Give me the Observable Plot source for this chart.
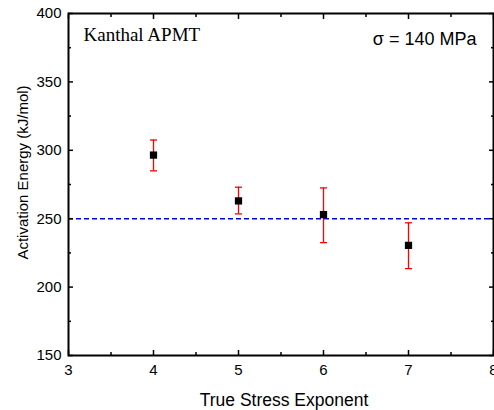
<!DOCTYPE html>
<html>
<head>
<meta charset="utf-8">
<script src="https://cdn.jsdelivr.net/npm/d3@7"></script>
<script src="https://cdn.jsdelivr.net/npm/@observablehq/plot@0.6"></script>
<style>
  html, body { margin: 0; padding: 0; background: #fff; }
  #chart { width: 494px; height: 410px; overflow: hidden; }
</style>
</head>
<body>
<div id="chart"></div>
<script>
// Data
const exponents = [4, 5, 6, 7];
const energy = [296.5, 263, 253, 230.5];
const errLow = [285, 253.5, 232.5, 213.5];
const errHigh = [307.5, 273, 272.5, 247];
const referenceEnergy = 250;

const xTicks = [3, 4, 5, 6, 7, 8];
const xMinorTicks = [3.5, 4.5, 5.5, 6.5, 7.5];
const yTicks = [150, 200, 250, 300, 350, 400];
const yMinorTicks = [175, 225, 275, 325, 375];

const xLabel = "True Stress Exponent";
const yLabel = "Activation Energy (kJ/mol)";
const materialLabel = "Kanthal APMT";
const stressLabel = "σ = 140 MPa";

const points = exponents.map((x, i) => ({x, y: energy[i], lo: errLow[i], hi: errHigh[i]}));

const capSymbol = {
  draw(context, size) {
    const r = Math.sqrt(size / Math.PI);
    context.moveTo(-r, 0);
    context.lineTo(r, 0);
  }
};

const intFormat = d3.format("d");

const chart = Plot.plot({
  width: 494,
  height: 410,
  marginLeft: 68,
  marginRight: 1,
  marginTop: 13,
  marginBottom: 55,
  style: {fontFamily: "'Liberation Sans', Arial, sans-serif", fontSize: "15px", background: "white", color: "black"},
  x: {domain: [3, 8]},
  y: {domain: [150, 400]},
  marks: [
    // reference dashed line
    Plot.ruleY([referenceEnergy], {stroke: "#0000ee", strokeWidth: 1.5, strokeDasharray: "5,3"}),
    // error bars
    Plot.ruleX(points, {x: "x", y1: "lo", y2: "hi", stroke: "#ff0000", strokeWidth: 1.3}),
    Plot.dot(points, {x: "x", y: "lo", symbol: capSymbol, r: 3.5, stroke: "#ff0000", strokeWidth: 1.3, fill: "none"}),
    Plot.dot(points, {x: "x", y: "hi", symbol: capSymbol, r: 3.5, stroke: "#ff0000", strokeWidth: 1.3, fill: "none"}),
    // markers
    Plot.dot(points, {x: "x", y: "y", symbol: "square", r: 4.1, fill: "black", stroke: "none"}),
    // inward ticks on all sides
    Plot.axisX({anchor: "bottom", ticks: xTicks, tickSize: -5, text: null, label: null, strokeWidth: 1.5}),
    Plot.axisX({anchor: "bottom", ticks: xMinorTicks, tickSize: -3, text: null, label: null, strokeWidth: 1.5}),
    Plot.axisX({anchor: "top", ticks: xTicks, tickSize: -5, text: null, label: null, strokeWidth: 1.5}),
    Plot.axisX({anchor: "top", ticks: xMinorTicks, tickSize: -3, text: null, label: null, strokeWidth: 1.5}),
    Plot.axisY({anchor: "left", ticks: yTicks, tickSize: -5, text: null, label: null, strokeWidth: 1.5}),
    Plot.axisY({anchor: "left", ticks: yMinorTicks, tickSize: -3, text: null, label: null, strokeWidth: 1.5}),
    Plot.axisY({anchor: "right", ticks: yTicks, tickSize: -5, text: null, label: null, strokeWidth: 1.5}),
    Plot.axisY({anchor: "right", ticks: yMinorTicks, tickSize: -3, text: null, label: null, strokeWidth: 1.5}),
    // tick labels
    Plot.axisX({anchor: "bottom", ticks: xTicks, tickFormat: intFormat, tickSize: 0, tickPadding: 9, label: null, fontSize: 15}),
    Plot.axisY({anchor: "left", ticks: yTicks, tickFormat: intFormat, tickSize: 0, tickPadding: 7, label: null, fontSize: 15}),
    // frame
    Plot.frame({stroke: "black", strokeWidth: 2}),
    // axis titles
    Plot.text([xLabel], {frameAnchor: "bottom", text: d => d, dx: 3, dy: 50, lineAnchor: "bottom", fontSize: 17.5}),
    Plot.text([yLabel], {frameAnchor: "left", text: d => d, rotate: -90, textAnchor: "middle", dx: -45, dy: -12, lineAnchor: "middle", fontSize: 15}),
    // annotations
    Plot.text([materialLabel], {frameAnchor: "top-left", text: d => d, textAnchor: "start", lineAnchor: "bottom", dx: 15, dy: 27, fontSize: 19, fontFamily: "'Liberation Serif', 'Times New Roman', serif"}),
    Plot.text([stressLabel], {frameAnchor: "top-right", text: d => d, textAnchor: "end", lineAnchor: "bottom", dx: -17, dy: 31, fontSize: 18})
  ]
});

document.getElementById("chart").appendChild(chart);
</script>
</body>
</html>
